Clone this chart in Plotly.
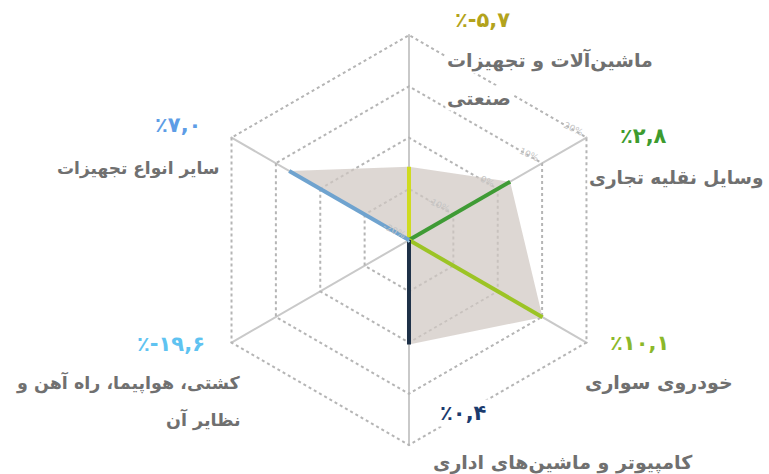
import plotly.graph_objects as go

# sectors, clockwise from the top
categories = [
    "ماشین‌آلات و تجهیزات صنعتی",
    "وسایل نقلیه تجاری",
    "خودروی سواری",
    "کامپیوتر و ماشین‌های اداری",
    "کشتی، هواپیما، راه آهن و نظایر آن",
    "سایر انواع تجهیزات",
]
values = [-5.7, 2.8, 10.1, 0.4, -19.6, 7.0]
pct_labels = ["٪-۵,۷", "٪۲,۸", "٪۱۰,۱", "٪۰,۴", "٪-۱۹,۶", "٪۷,۰"]
radial_ticks = [-20, -10, 0, 10, 20]

spoke_colors = ["#cfdb1f", "#3f9b35", "#9cc425", "#1d3047", "#b3dcf0", "#6fa3cf"]
pct_colors = ["#b3a31c", "#3d9b2e", "#8bb82a", "#1b3b6e", "#5fc3f1", "#5d9de6"]
r_min = -20

fig = go.Figure()

# grey area
fig.add_trace(go.Scatterpolar(
    r=values + values[:1],
    theta=categories + categories[:1],
    mode="none",
    fill="toself",
    fillcolor="rgba(208,200,194,0.72)",
    hoverinfo="skip",
))

# coloured spokes
for cat, v, c in zip(categories, values, spoke_colors):
    fig.add_trace(go.Scatterpolar(
        r=[r_min, v],
        theta=[cat, cat],
        mode="lines+markers",
        line=dict(color=c, width=4),
        marker=dict(size=[0, 11], color=c),
    ))

fig.update_layout(
    width=769,
    height=474,
    paper_bgcolor="white",
    plot_bgcolor="white",
    showlegend=False,
    margin=dict(l=0, r=0, t=0, b=0),
    polar=dict(
        domain=dict(x=[0.2627, 0.8010], y=[0.059, 0.928]),
        bgcolor="rgba(0,0,0,0)",
        gridshape="linear",
        radialaxis=dict(
            range=[-20, 20.2],
            tickvals=radial_ticks,
            ticktext=[f"{t}%" for t in radial_ticks],
            angle=30,
            side="counterclockwise",
            tickangle=55,
            showline=False,
            ticks="",
            gridcolor="#b5b5b5",
            gridwidth=1.5,
            griddash="3px,3px",
            tickfont=dict(family="DejaVu Sans", size=9, color="#c4c4c4"),
        ),
        angularaxis=dict(
            categoryorder="array",
            categoryarray=categories,
            direction="clockwise",
            rotation=90,
            showline=False,
            showticklabels=False,
            ticks="",
            gridcolor="#c9c9c9",
            gridwidth=1.5,
        ),
    ),
)

pct_font_size = 21

# (x, y, anchor) in pixels for the text blocks of each sector
pct_pos = [(453, 20, "left"), (618, 136, "left"), (608, 343, "left"),
           (438, 413, "left"), (207, 344, "right"), (203, 125, "right")]
name_lines = [
    [("ماشین‌آلات و تجهیزات", 445, 60, "left", 19), ("صنعتی", 445, 98, "left", 19)],
    [("وسایل نقلیه تجاری", 765, 178, "right", 18.5)],
    [("خودروی سواری", 735, 382, "right", 19)],
    [("کامپیوتر و ماشین‌های اداری", 695, 462, "right", 19)],
    [("کشتی، هواپیما، راه آهن و", 243, 382, "right", 17.5),
     ("نظایر آن", 243, 419, "right", 17.5)],
    [("سایر انواع تجهیزات", 222, 168, "right", 17)],
]

W, H = 769, 474
for (px, py, anc), txt, col in zip(pct_pos, pct_labels, pct_colors):
    fig.add_annotation(
        x=px / W, y=1 - py / H, xref="paper", yref="paper",
        text="<b>" + txt + "</b>", showarrow=False,
        xanchor=anc, yanchor="middle", bgcolor="white",
        font=dict(family="DejaVu Sans", size=pct_font_size, color=col),
    )

for lines in name_lines:
    for txt, px, py, anc, fs in lines:
        fig.add_annotation(
            x=px / W, y=1 - py / H, xref="paper", yref="paper",
            text="<b>" + txt + "</b>", showarrow=False,
            xanchor=anc, yanchor="middle", bgcolor="white",
            font=dict(family="DejaVu Sans", size=fs, color="#707070"),
        )

fig.write_html("out.html", config={"displayModeBar": False},
               post_script="document.body.style.margin='0';")
